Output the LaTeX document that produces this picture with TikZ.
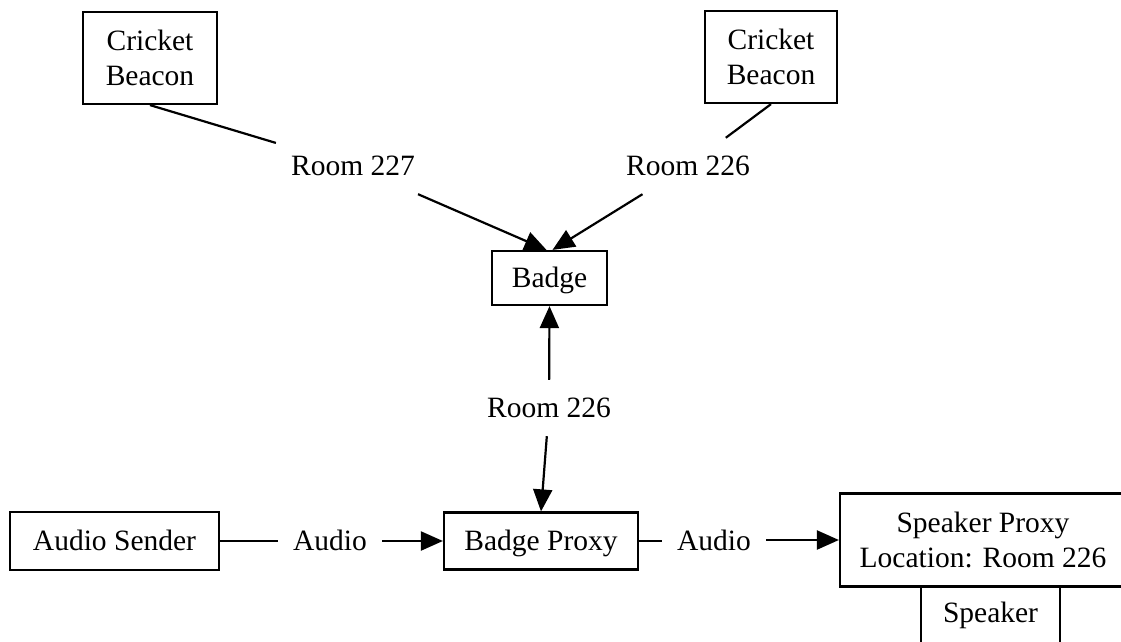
\documentclass[tikz,border=0pt]{standalone}
\usepackage{fontspec}
\setmainfont{Liberation Serif}
\usetikzlibrary{arrows.meta}
\begin{document}
\begin{tikzpicture}[
  x=1pt, y=-1pt,
  every node/.style={font=\fontsize{29.5}{35}\selectfont},
  box/.style={draw, line width=2.2pt, inner sep=0pt, align=center},
  oneline/.style={text height=22pt, text depth=4pt},
  lbl/.style={oneline, inner sep=15pt},
  link/.style={line width=2.2pt},
  arr/.style={link, -{Triangle[length=22pt,width=19pt]}}
]
\useasboundingbox (0,0) rectangle (1121,642);
% beacons and badge
\node[box, minimum width=134pt, minimum height=92pt] (beacon1) at (150,58) {Cricket\\Beacon};
\node[box, minimum width=132pt, minimum height=92pt] (beacon2) at (771,57) {Cricket\\Beacon};
\node[box, oneline, minimum width=115pt, minimum height=54pt] (badge) at (549.5,278) {Badge};
\node[lbl] (r227) at (353,166) {Room 227};
\node[lbl] (r226a) at (688,166) {Room 226};
\node[lbl] (r226b) at (549,408) {Room 226};
% audio path
\node[box, oneline, minimum width=209pt, minimum height=58pt] (asender) at (114.5,541) {Audio Sender};
\node[box, oneline, minimum width=194pt, minimum height=57pt] (bproxy) at (541,541) {Badge Proxy};
\node[box, minimum width=286pt, minimum height=93pt] (spproxy) at (983,540) {Speaker Proxy\\Location: Room 226};
\node[box, text height=19pt, text depth=9pt, minimum width=139pt, minimum height=60pt, anchor=north] (speaker) at (990.5,586) {Speaker};
\node[lbl] (audio1) at (330,541) {Audio};
\node[lbl] (audio2) at (714,541) {Audio};
\draw[link] (beacon1.south) -- (r227);
\draw[arr] (r227) -- ([xshift=-3pt]badge.north);
\draw[link] (beacon2.south) -- (r226a);
\draw[arr] (r226a) -- ([xshift=3pt]badge.north);
\draw[arr] (r226b) -- (badge.south);
\draw[arr] (r226b) -- (bproxy.north);
\draw[link] (asender) -- (asender -| audio1.west);
\draw[arr] (audio1.east |- bproxy) -- (bproxy);
\draw[link] (bproxy) -- (bproxy -| audio2.west);
\draw[arr] (audio2.east |- spproxy) -- (spproxy);
\end{tikzpicture}
\end{document}
